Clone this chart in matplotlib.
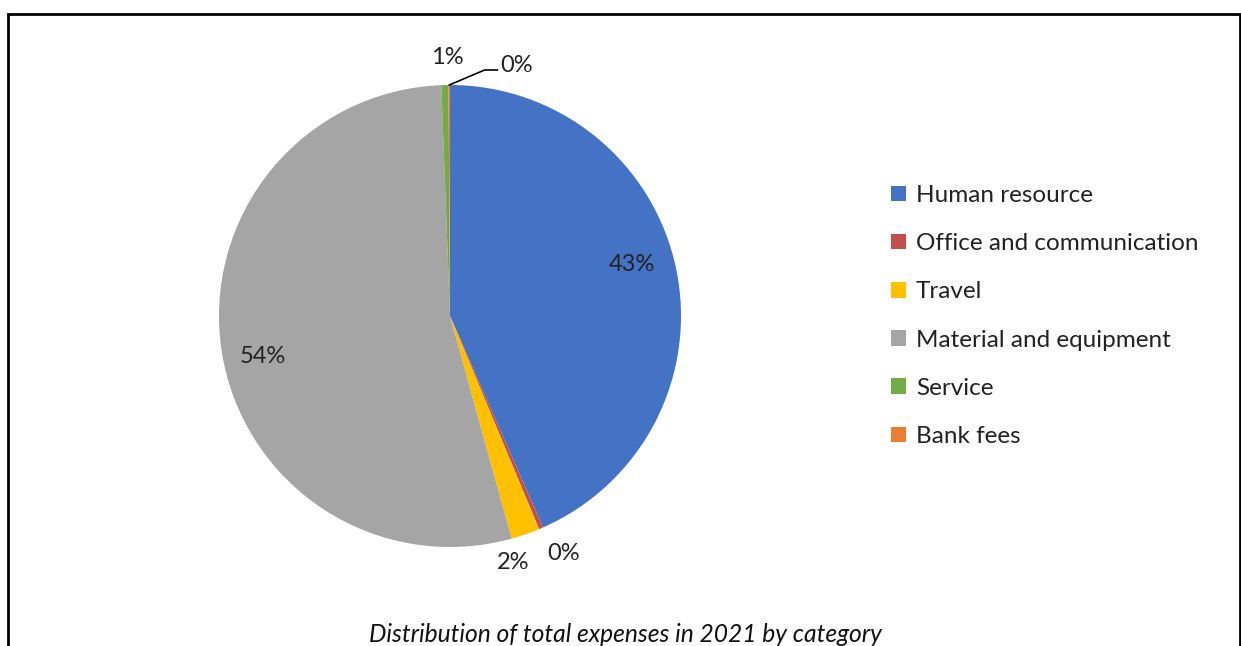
import numpy as np
import matplotlib
matplotlib.use("Agg")
import matplotlib.pyplot as plt
from matplotlib.patches import Rectangle

# expense shares for 2021 (percent of total)
categories = ["Human resource", "Office and communication", "Travel",
              "Material and equipment", "Service", "Bank fees"]
shares = [43.4, 0.3, 2.0, 53.7, 0.5, 0.1]
colors = ["#4472C4", "#C0504D", "#FFC000", "#A5A5A5", "#70AD47", "#ED7D31"]

# label placement: (radius factor, angle nudge in degrees)
label_pos = [(0.82, 3.8), (1.14, 2.3), (1.10, -4.7), (0.83, 3.5), (1.12, -0.6), (1.12, -15.0)]

plt.rcParams['font.family'] = ['Lato', 'DejaVu Sans']

fig = plt.figure(figsize=(12.41, 6.46), dpi=100)

# pie centred at (450, 316) px, radius 231 px
lim = 1.3
cx, cy, r = 450, 316, 231
W, H = 1241, 646
ax = fig.add_axes([(cx - lim * r) / W, (H - cy - lim * r) / H, 2 * lim * r / W, 2 * lim * r / H])

wedges, _ = ax.pie(shares, colors=colors, startangle=90, counterclock=False,
                   radius=1, wedgeprops=dict(linewidth=0))
ax.set_xlim(-lim, lim)
ax.set_ylim(-lim, lim)
ax.set_aspect('equal')
ax.axis('off')

total = sum(shares)
for w, val, (rf, nudge) in zip(wedges, shares, label_pos):
    mid = np.deg2rad((w.theta1 + w.theta2) / 2 + nudge)
    pct = int(val / total * 100 + 0.5)
    tx, ty = rf * np.cos(mid), rf * np.sin(mid)
    ax.text(tx, ty, f"{pct}%", ha='center', va='center', fontsize=17, color='#222222')

# leader line for the bank fees label
bw = wedges[-1]
bmid = np.deg2rad((bw.theta1 + bw.theta2) / 2)
x0, y0 = np.cos(bmid), np.sin(bmid)
ax.plot([x0, 0.15, 0.205], [y0, 1.065, 1.065], color='black', lw=1.2, clip_on=False)

ax.legend(wedges, categories, loc='center left', bbox_to_anchor=(1.198, 0.5),
          frameon=False, fontsize=17.5, handlelength=0.62, handleheight=0.62,
          handletextpad=0.4, labelspacing=1.12, labelcolor='#222222')

fig.text(0.504, 0.018, "Distribution of total expenses in 2021 by category",
         ha='center', va='center', fontsize=17.7, style='italic', color='#111111')

# outer frame (bottom edge runs past the canvas)
fig.patches.append(Rectangle((7.5 / W, -0.1), (1240 - 7.5) / W, 1.1 - 14 / H,
                             transform=fig.transFigure, fill=False,
                             edgecolor='black', linewidth=2.0))

fig.savefig("out.png", dpi=100)
